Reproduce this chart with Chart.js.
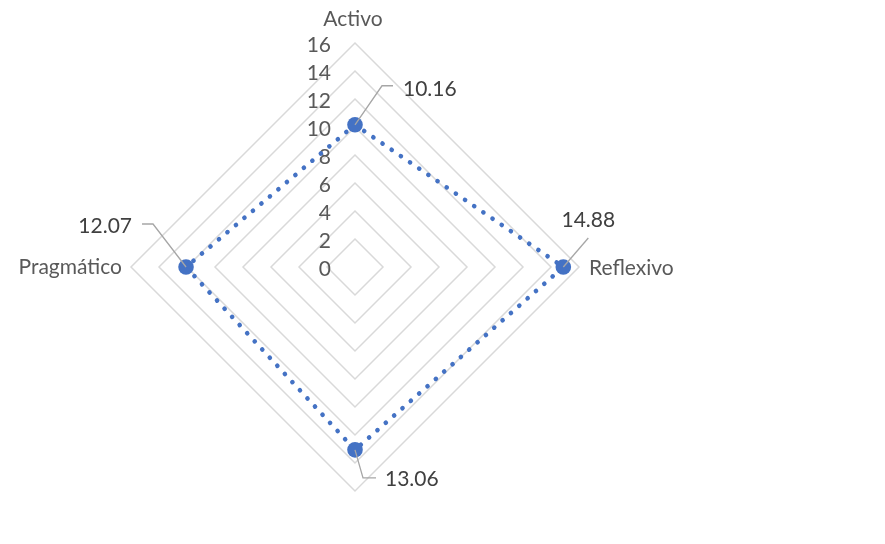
<!DOCTYPE html>
<html>
<head>
<meta charset="utf-8">
<script src="https://cdn.jsdelivr.net/npm/chart.js@4"></script>
<style>
  html, body { margin: 0; padding: 0; background: #ffffff; }
  #wrap { width: 885px; height: 544px; position: relative; }
</style>
</head>
<body>
<div id="wrap"><canvas id="c"></canvas></div>
<script>
// Learning-style profile scores
const categories = ['Activo', 'Reflexivo', '', 'Pragmático'];
const scores = [10.16, 14.88, 13.06, 12.07];
const tickValues = [0, 2, 4, 6, 8, 10, 12, 14, 16];

const FONT = 'Lato, "Open Sans", sans-serif';
const FONT_SIZE = 21;
const BLUE = '#4472C4';

// Leader-line and text offsets for each value label, relative to its point
const labelLayout = [
  { path: [[27, -39], [38, -39]], text: [48, -29], align: 'left' },
  { path: [[25, -29]],            text: [25, -40], align: 'center' },
  { path: [[8, 28], [21, 28]],    text: [30, 36],  align: 'left' },
  { path: [[-33, -43], [-44, -43]], text: [-54, -34], align: 'right' }
];

const radarLayout = {
  id: 'radarLayout',
  afterLayout(chart) {
    const s = chart.scales.r, a = chart.chartArea;
    s.xCenter = (a.left + a.right) / 2;
    s.yCenter = (a.top + a.bottom) / 2;
    s.drawingArea = Math.min(a.right - a.left, a.bottom - a.top) / 2;
  }
};

const axisText = {
  id: 'axisText',
  beforeDatasetsDraw(chart) {
    const s = chart.scales.r, ctx = chart.ctx;
    ctx.save();
    ctx.font = FONT_SIZE + 'px ' + FONT;
    ctx.fillStyle = '#595959';
    ctx.textBaseline = 'alphabetic';
    // tick labels along the vertical axis
    ctx.textAlign = 'right';
    s.ticks.forEach(t => {
      const y = s.yCenter - s.getDistanceFromCenterForValue(t.value);
      ctx.fillText(String(t.value), s.xCenter - 24, y + 8.5);
    });
    // category labels around the outer ring
    categories.forEach((name, i) => {
      if (!name) return;
      const p = s.getPointPosition(i, s.drawingArea);
      if (i === 0) { ctx.textAlign = 'center'; ctx.fillText(name, p.x - 2, p.y - 17); }
      else if (i === 1) { ctx.textAlign = 'left'; ctx.fillText(name, p.x + 10, p.y + 8); }
      else if (i === 3) { ctx.textAlign = 'right'; ctx.fillText(name, p.x - 9, p.y + 7); }
      else { ctx.textAlign = 'center'; ctx.fillText(name, p.x, p.y + 24); }
    });
    ctx.restore();
  },
  afterDatasetsDraw(chart) {
    const ctx = chart.ctx;
    const meta = chart.getDatasetMeta(0);
    ctx.save();
    meta.data.forEach((pt, i) => {
      const L = labelLayout[i];
      ctx.strokeStyle = '#a6a6a6';
      ctx.lineWidth = 1.3;
      ctx.beginPath();
      ctx.moveTo(pt.x, pt.y);
      L.path.forEach(([dx, dy]) => ctx.lineTo(pt.x + dx, pt.y + dy));
      ctx.stroke();
      ctx.font = FONT_SIZE + 'px ' + FONT;
      ctx.fillStyle = '#404040';
      ctx.textAlign = L.align;
      ctx.textBaseline = 'alphabetic';
      ctx.fillText(scores[i].toFixed(2), pt.x + L.text[0], pt.y + L.text[1]);
    });
    ctx.restore();
  }
};

new Chart(document.getElementById('c'), {
  type: 'radar',
  data: {
    labels: categories,
    datasets: [{
      data: scores,
      borderColor: BLUE,
      borderWidth: 4.6,
      borderDash: [0.1, 11],
      borderCapStyle: 'round',
      fill: false,
      tension: 0,
      pointRadius: 7.8,
      pointHoverRadius: 7.8,
      pointBorderWidth: 0,
      pointBackgroundColor: BLUE
    }]
  },
  options: {
    responsive: true,
    maintainAspectRatio: false,
    animation: false,
    events: [],
    layout: { padding: { left: 131, right: 306, top: 43, bottom: 53 } },
    plugins: { legend: { display: false }, tooltip: { enabled: false } },
    scales: {
      r: {
        min: 0,
        max: 16,
        afterBuildTicks(scale) { scale.ticks = tickValues.map(v => ({ value: v })); },
        ticks: { display: false, stepSize: 2 },
        grid: { color: '#d9d9d9', lineWidth: 1.5, circular: false },
        angleLines: { display: false },
        pointLabels: { display: false }
      }
    }
  },
  plugins: [radarLayout, axisText]
});
</script>
</body>
</html>
